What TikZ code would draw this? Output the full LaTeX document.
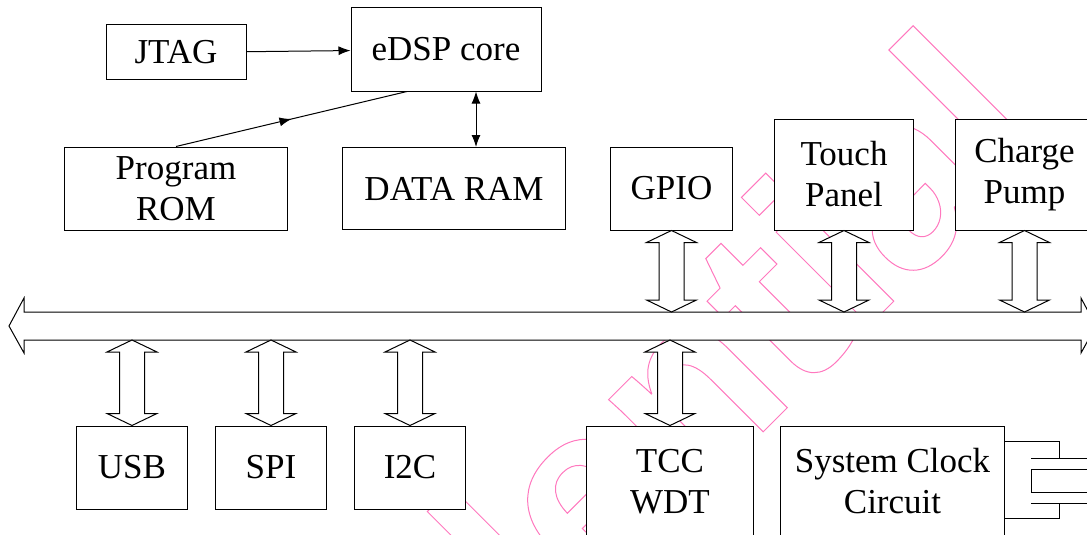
\documentclass[tikz,border=0pt]{standalone}
\usepackage{fontspec}
\setmainfont{Liberation Serif}
\newfontfamily\wmfont{Liberation Sans}
\usetikzlibrary{positioning, calc, arrows.meta, decorations.markings}

\definecolor{wmpink}{RGB}{255,120,190}

\tikzset{
  block/.style={draw, fill=white, line width=1pt, inner sep=0pt, align=center,
    font=\fontsize{35}{41}\selectfont},
  fatarrow/.style={draw, fill=white, line width=1pt, line join=miter},
  midarrow/.style={decoration={markings, mark=at position 0.5 with {\arrow{>}}},
    postaction=decorate},
}

% wide double arrow between a top tip and a bottom tip
\newcommand{\fatlink}[2]{%
  \draw[fatarrow] (#1) -- ++(25,12) -- ++(-12.5,0) -- ($(#2)+(12.5,-12)$)
    -- ++(12.5,0) -- (#2) -- ++(-25,-12) -- ++(12.5,0)
    -- ($(#1)+(-12.5,12)$) -- ++(-12.5,0) -- cycle;}

\begin{document}
\begin{tikzpicture}[x=1pt, y=-1pt, node distance=139pt, on grid,
    >={Latex[length=12pt,width=9pt]}, line width=1pt]

        \useasboundingbox (0,0) rectangle (1087,535);

        % watermark
        \node[anchor=base east, rotate=45, inner sep=0pt, text=wmpink,
            font=\wmfont\bfseries\fontsize{250}{250}\selectfont] (wmark) at (1054,141)
            {\special{pdf:literal direct 1 Tr 1 w}Confidential\special{pdf:literal direct 0 Tr}};

        \node[block, minimum width=190pt, minimum height=83pt] (edsp) at (446,49.5) {eDSP core};
        \node[block, minimum width=140pt, minimum height=55pt, left=270pt of edsp, yshift=-3pt] (jtag) {JTAG};
        \node[block, minimum width=223pt, minimum height=83pt, below=136pt of jtag] (rom) {Program\\ROM};
        \node[block, minimum width=223pt, minimum height=82pt, right=278pt of rom] (ram) {DATA RAM};
        \node[block, minimum width=122pt, minimum height=83pt, right=217.5pt of ram] (gpio) {GPIO};
        \node[block, minimum width=139pt, minimum height=111pt, right=172.5pt of gpio, yshift=14pt] (touch) {Touch\\Panel};
        \node[block, minimum width=139pt, minimum height=111pt, right=180.5pt of touch] (pump) {Charge\\Pump};

        \node[block, minimum width=111pt, minimum height=83pt, below left=279pt and 44pt of rom] (usb) {USB};
        \node[block, minimum width=111pt, minimum height=83pt, right=of usb] (spi) {SPI};
        \node[block, minimum width=111pt, minimum height=83pt, right=of spi] (i2c) {I2C};
        \node[block, minimum width=167pt, minimum height=111pt, right=260pt of i2c, yshift=-14pt] (tcc) {TCC\\WDT};
        \node[block, minimum width=224pt, minimum height=111pt, right=222.5pt of tcc] (clk) {System Clock\\Circuit};

        \path[->]
            (jtag) edge (edsp)
            (rom.north) edge[-, midarrow] ([xshift=-39pt]edsp.south)
            ([xshift=30pt]edsp.south) edge[<->] ([xshift=30pt]edsp.south |- ram.north);

        % bus
        \coordinate (busL) at (9,326);
        \coordinate (busR) at (1096,326);
        \coordinate (bustop) at (0,312);
        \coordinate (busbot) at (0,340);
        \draw[fatarrow] (busL) -- ++(15,-28) -- ++(0,14) -- ($(busR)+(-15,-14)$) -- ++(0,-14)
            -- (busR) -- ++(-15,27) -- ++(0,-13) -- ($(busL)+(15,14)$) -- ++(0,13) -- cycle;

        \foreach \n in {gpio, touch, pump} {
            \coordinate (\n-bus) at (\n.south |- bustop);
            \fatlink{\n.south}{\n-bus}
        }
        \foreach \n in {usb, spi, i2c, tcc} {
            \coordinate (\n-bus) at (\n.north |- busbot);
            \fatlink{\n-bus}{\n.north}
        }

        % crystal
        \draw ([yshift=-16pt]clk.north east) -- ++(54,0) -- ++(0,16);
        \draw ([yshift=-93pt]clk.north east) -- ++(54,0) -- ++(0,-16);
        \draw (1031,458) -- (1095,458);
        \draw (1031,503) -- (1095,503);
        \draw (1031,469) rectangle (1100,492);

\end{tikzpicture}
\end{document}
